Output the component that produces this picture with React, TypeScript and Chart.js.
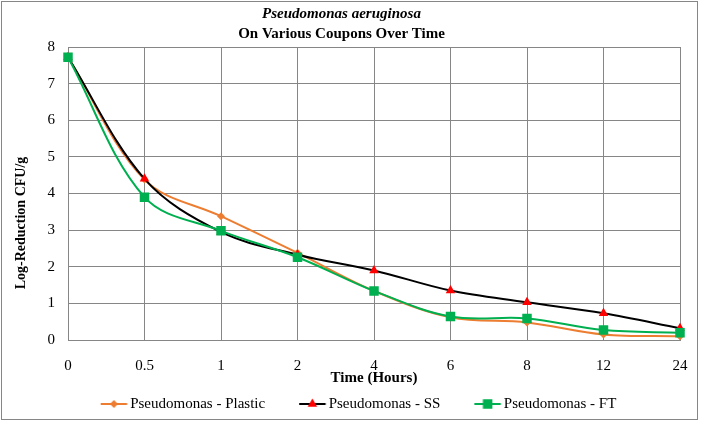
import React, { useEffect, useRef } from 'react';
import { Chart, registerables } from 'chart.js';

Chart.register(...registerables);

// ---- data ----
const categories = ['0', '0.5', '1', '2', '4', '6', '8', '12', '24'];
const plasticValues = [7.72, 4.38, 3.38, 2.38, 1.34, 0.62, 0.48, 0.15, 0.1];
const ssValues = [7.72, 4.4, 2.95, 2.33, 1.9, 1.35, 1.03, 0.73, 0.32];
const ftValues = [7.72, 3.9, 2.98, 2.26, 1.34, 0.64, 0.59, 0.27, 0.2];
const seriesNames = ['Pseudomonas - Plastic', 'Pseudomonas - SS', 'Pseudomonas - FT'];
const titleLine1 = 'Pseudomonas aeruginosa';
const titleLine2 = 'On Various Coupons Over Time';
const xTitle = 'Time (Hours)';
const yTitle = 'Log-Reduction CFU/g';
const yMin = 0;
const yMax = 8;
const yStep = 1;

// ---- styles ----
const SERIF = "'Liberation Serif', 'Times New Roman', serif";
const ORANGE = '#ED7D31';
const BLACK = '#000000';
const RED = '#FF0000';
const GREEN = '#00B050';
const GRID = '#868686';

type Marker = 'rectRot' | 'triangle' | 'rect';

function drawMarker(ctx: CanvasRenderingContext2D, kind: Marker, x: number, y: number, color: string) {
  ctx.fillStyle = color;
  ctx.beginPath();
  if (kind === 'rectRot') {
    const r = 4;
    ctx.moveTo(x, y - r);
    ctx.lineTo(x + r, y);
    ctx.lineTo(x, y + r);
    ctx.lineTo(x - r, y);
  } else if (kind === 'triangle') {
    const r = 5.5;
    for (let i = 0; i < 3; i++) {
      const a = (i * 2 * Math.PI) / 3;
      const px = x + Math.sin(a) * r;
      const py = y - Math.cos(a) * r;
      if (i === 0) ctx.moveTo(px, py);
      else ctx.lineTo(px, py);
    }
  } else {
    const s = 4.75;
    ctx.rect(x - s, y - s, 2 * s, 2 * s);
  }
  ctx.closePath();
  ctx.fill();
}

// legend icon: line with marker, placed in the right part of a wider transparent image
function makeLegendIcon(lineColor: string, markerColor: string, marker: Marker) {
  const c = document.createElement('canvas');
  c.width = 68;
  c.height = 14;
  const ctx = c.getContext('2d')!;
  ctx.strokeStyle = lineColor;
  ctx.lineWidth = 2;
  ctx.beginPath();
  ctx.moveTo(40, 7);
  ctx.lineTo(66.5, 7);
  ctx.stroke();
  drawMarker(ctx, marker, 53.25, 7, markerColor);
  return c;
}

const framePlugin = {
  id: 'frame',
  beforeDraw(chart: any) {
    const { ctx, width, height } = chart;
    ctx.save();
    ctx.fillStyle = '#ffffff';
    ctx.fillRect(0, 0, width, height);
    ctx.strokeStyle = GRID;
    ctx.lineWidth = 1;
    ctx.strokeRect(1.5, 1.5, width - 5, height - 5);
    ctx.restore();
  },
};

const yTitlePlugin = {
  id: 'yTitleText',
  afterDraw(chart: any) {
    const { ctx } = chart;
    ctx.save();
    ctx.translate(21, 223);
    ctx.rotate(-Math.PI / 2);
    ctx.font = `bold 14px ${SERIF}`;
    ctx.fillStyle = '#000';
    ctx.textAlign = 'center';
    ctx.textBaseline = 'middle';
    ctx.fillText(yTitle, 0, 0);
    ctx.restore();
  },
};

export default function App() {
  const ref = useRef<HTMLCanvasElement | null>(null);

  useEffect(() => {
    document.body.style.margin = '0';
    const canvas = ref.current;
    if (!canvas) return;

    const icons = [
      makeLegendIcon(ORANGE, ORANGE, 'rectRot'),
      makeLegendIcon(BLACK, RED, 'triangle'),
      makeLegendIcon(GREEN, GREEN, 'rect'),
    ];

    const chart = new Chart(canvas, {
      type: 'line',
      data: {
        labels: categories,
        datasets: [
          {
            label: seriesNames[0],
            data: plasticValues,
            borderColor: ORANGE,
            backgroundColor: ORANGE,
            borderWidth: 2,
            pointStyle: 'rectRot',
            pointRadius: 4,
            pointBorderWidth: 0,
            pointBackgroundColor: ORANGE,
            tension: 0.35,
            order: 3,
          },
          {
            label: seriesNames[1],
            data: ssValues,
            borderColor: BLACK,
            backgroundColor: RED,
            borderWidth: 2,
            pointStyle: 'triangle',
            pointRadius: 5.5,
            pointBorderWidth: 0,
            pointBackgroundColor: RED,
            tension: 0.35,
            order: 2,
          },
          {
            label: seriesNames[2],
            data: ftValues,
            borderColor: GREEN,
            backgroundColor: GREEN,
            borderWidth: 2,
            pointStyle: 'rect',
            pointRadius: 6.7,
            pointBorderWidth: 0,
            pointBackgroundColor: GREEN,
            tension: 0.35,
            order: 1,
          },
        ],
      },
      options: {
        responsive: false,
        animation: false,
        devicePixelRatio: 1,
        layout: { padding: { left: 3, right: 21, top: 0, bottom: 1.5 } },
        plugins: {
          title: {
            display: true,
            text: titleLine1,
            color: '#000',
            font: { family: SERIF, size: 15, weight: 'bold', style: 'italic', lineHeight: 1.2 },
            padding: { top: 5, bottom: 0 },
          },
          subtitle: {
            display: true,
            text: titleLine2,
            color: '#000',
            font: { family: SERIF, size: 15, weight: 'bold', lineHeight: 1.2 },
            padding: { top: 2, bottom: 4 },
          },
          legend: {
            display: true,
            position: 'bottom',
            labels: {
              usePointStyle: true,
              pointStyleWidth: 56,
              padding: 0,
              color: '#000',
              font: { family: SERIF, size: 15 },
              sort: (a: any, b: any) => a.datasetIndex - b.datasetIndex,
              generateLabels: (ch: any) => {
                const base = (Chart.defaults.plugins.legend.labels as any).generateLabels(ch);
                return base.map((item: any) => ({ ...item, pointStyle: icons[item.datasetIndex] }));
              },
            },
          },
          tooltip: { enabled: false },
        },
        scales: {
          x: {
            type: 'category',
            offset: false,
            grid: { color: GRID, lineWidth: 1, drawTicks: false },
            border: { color: GRID, width: 1 },
            ticks: {
              color: '#000',
              padding: 17,
              maxRotation: 0,
              autoSkip: false,
              font: { family: SERIF, size: 15 },
            },
            title: {
              display: true,
              text: xTitle,
              color: '#000',
              font: { family: SERIF, size: 15, weight: 'bold', lineHeight: 1.2 },
              padding: { top: 0, bottom: 9.5 },
            },
            afterFit: (s: any) => {
              s.height = 56.5;
              s.paddingLeft = 0;
              s.paddingRight = 0;
            },
          },
          y: {
            min: yMin,
            max: yMax,
            grid: { color: GRID, lineWidth: 1, drawTicks: false },
            border: { color: GRID, width: 1 },
            ticks: {
              stepSize: yStep,
              color: '#000',
              padding: 13,
              font: { family: SERIF, size: 15 },
            },
            afterFit: (s: any) => {
              s.width = 65;
            },
          },
        },
      },
      plugins: [framePlugin, yTitlePlugin],
    } as any);

    return () => chart.destroy();
  }, []);

  return <canvas ref={ref} width={701} height={423} style={{ display: 'block' }} />;
}
